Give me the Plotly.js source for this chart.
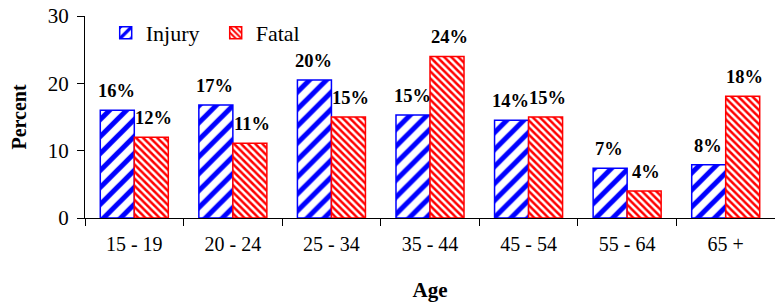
<!DOCTYPE html>
<html>
<head>
<meta charset="utf-8">
<script src="https://cdn.plot.ly/plotly-3.0.1.min.js"></script>
<style>html,body{margin:0;padding:0;background:#fff;}#chart{width:775px;height:303px;}</style>
</head>
<body>
<div id="chart"></div>
<script>
const ageGroups = ["15 - 19", "20 - 24", "25 - 34", "35 - 44", "45 - 54", "55 - 64", "65 +"];
const injuryValues = [16.0, 16.8, 20.5, 15.3, 14.5, 7.4, 7.9];
const fatalValues = [12.0, 11.1, 15.0, 24.0, 15.0, 4.0, 18.1];
const injuryLabels = ["16%", "17%", "20%", "15%", "14%", "7%", "8%"];
const fatalLabels = ["12%", "11%", "15%", "24%", "15%", "4%", "18%"];
const yTicks = [0, 10, 20, 30];

const serif = "Liberation Serif";

const injury = {
  type: "bar", name: "Injury", x: ageGroups, y: injuryValues,
  marker: {color: "#ffffff", line: {color: "#0000ff", width: 1.5},
    pattern: {shape: "/", fgcolor: "#0000ff", bgcolor: "#ffffff", size: 12, solidity: 0.42}}
};
const fatal = {
  type: "bar", name: "Fatal", x: ageGroups, y: fatalValues,
  marker: {color: "#ffffff", line: {color: "#ff0000", width: 1.5},
    pattern: {shape: "\\", fgcolor: "#ff0000", bgcolor: "#ffffff", size: 5, solidity: 0.5}}
};

function labelAnnotations(values, labels, shift) {
  return values.map((v, i) => ({
    x: ageGroups[i], y: v, xref: "x", yref: "y", text: "<b>" + labels[i] + "</b>",
    showarrow: false, xanchor: "center", yanchor: "bottom", xshift: shift, yshift: 7,
    font: {family: serif, size: 18.5, color: "#000"}
  }));
}

const layout = {
  width: 775, height: 303,
  margin: {l: 85, r: 0, t: 16, b: 85},
  paper_bgcolor: "#fff", plot_bgcolor: "#fff",
  barmode: "group", bargap: 0.31, bargroupgap: 0,
  font: {family: serif, size: 20, color: "#000"},
  showlegend: true,
  legend: {orientation: "h", x: 0.03, y: 1.02, xanchor: "left", yanchor: "top",
    entrywidth: 65, entrywidthmode: "pixels",
    font: {family: serif, size: 22, color: "#000"}, bgcolor: "rgba(0,0,0,0)", traceorder: "normal"},
  annotations: labelAnnotations(injuryValues, injuryLabels, -18).concat(labelAnnotations(fatalValues, fatalLabels, 19)),
  xaxis: {
    type: "category", showgrid: false, zeroline: false,
    showline: true, linecolor: "#000", linewidth: 1,
    ticks: "outside", tickson: "boundaries", ticklen: 7, tickcolor: "#000",
    ticklabelstandoff: 8,
    tickfont: {family: serif, size: 20, color: "#000"},
    title: {text: "<b>Age</b>", font: {family: serif, size: 21, color: "#000"}, standoff: 28}
  },
  yaxis: {
    range: [0, 30], tickvals: yTicks, showgrid: false, zeroline: false,
    showline: true, linecolor: "#000", linewidth: 1,
    ticks: "outside", ticklen: 7, tickcolor: "#000",
    ticklabelstandoff: 4,
    tickfont: {family: serif, size: 21, color: "#000"},
    title: {text: "<b>Percent</b>", font: {family: serif, size: 20, color: "#000"}, standoff: 15}
  }
};

Plotly.newPlot("chart", [injury, fatal], layout, {displayModeBar: false, staticPlot: true});
</script>
</body>
</html>
